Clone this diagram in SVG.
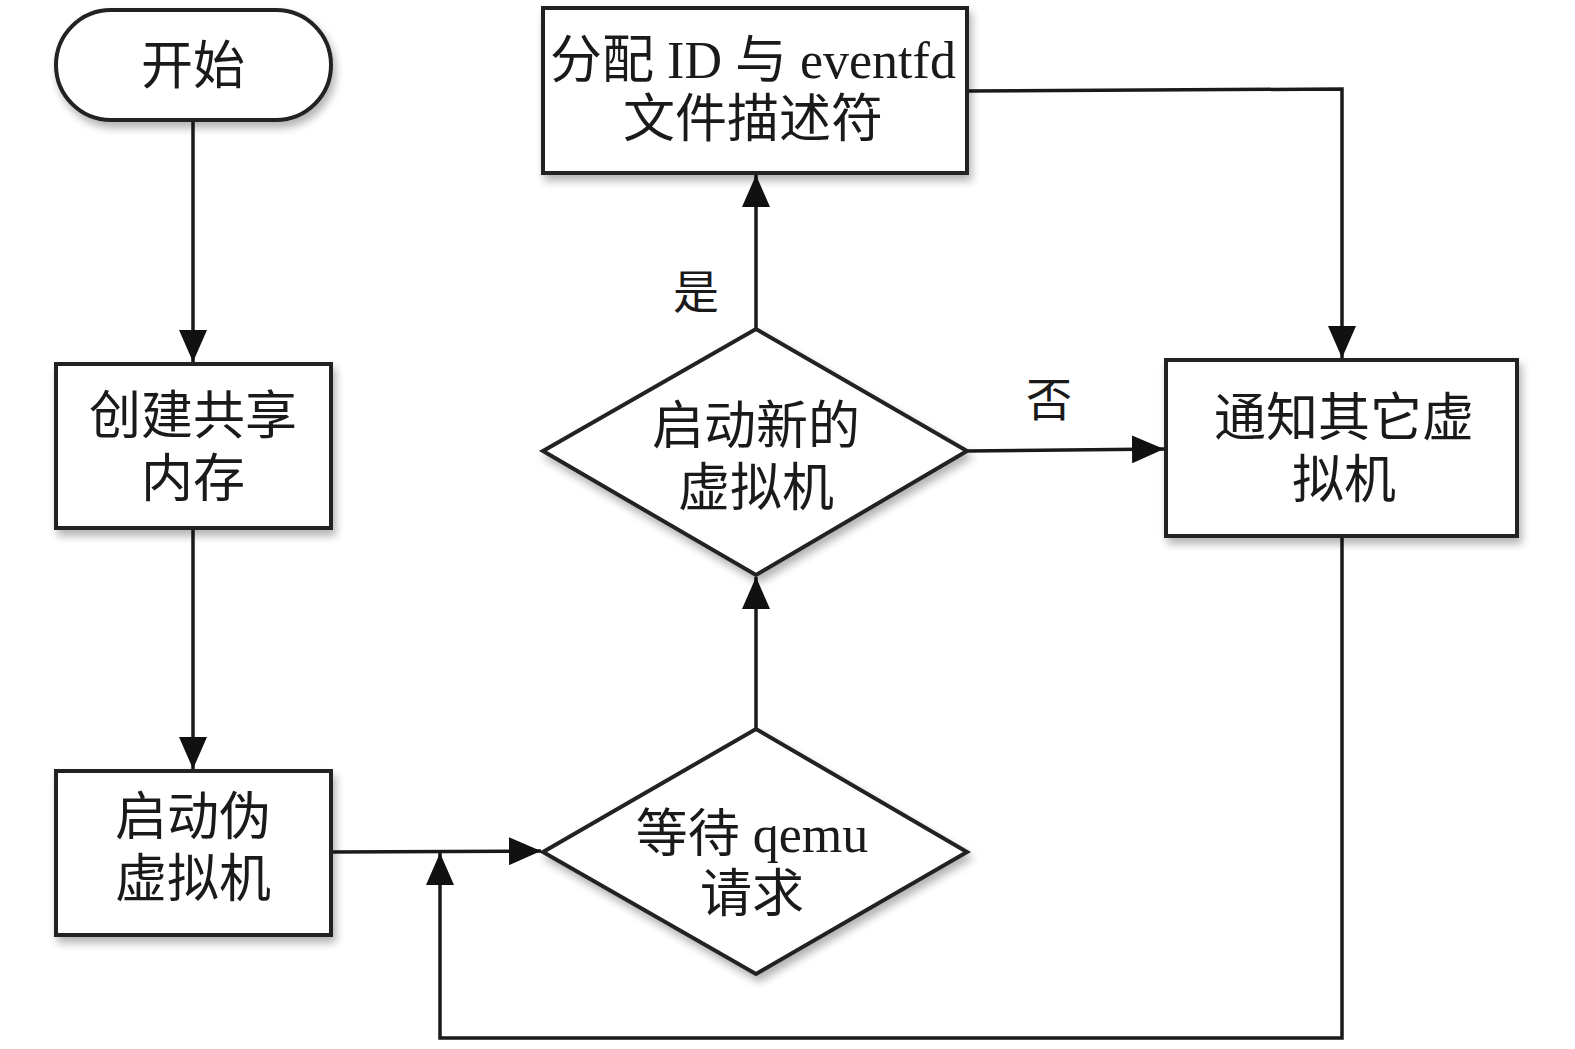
<svg xmlns="http://www.w3.org/2000/svg" width="1575" height="1049" viewBox="0 0 1575 1049">
<style>
.shape{fill:#fff;stroke:#222;stroke-width:4;filter:url(#sh)}
.line{fill:none;stroke:#1a1a1a;stroke-width:3.5}
.t{font-family:"Liberation Serif","Noto Sans CJK SC",serif;font-size:52px;fill:#1a1a1a;text-anchor:middle}
.lbl{font-family:"Liberation Serif","Noto Sans CJK SC",serif;font-size:46px;fill:#1a1a1a;text-anchor:middle}
</style>
<defs>
<filter id="sh" x="-10%" y="-10%" width="130%" height="130%">
<feGaussianBlur in="SourceAlpha" stdDeviation="4"/>
<feOffset dx="3" dy="6" result="b"/>
<feComponentTransfer><feFuncA type="linear" slope="0.3"/></feComponentTransfer>
<feMerge><feMergeNode/><feMergeNode in="SourceGraphic"/></feMerge>
</filter>
<marker id="ar" viewBox="0 0 32 28" refX="32" refY="14" markerWidth="32" markerHeight="28" markerUnits="userSpaceOnUse" orient="auto">
<path d="M0,0 L32,14 L0,28 Z" fill="#111"/>
</marker>
</defs>
<g id="connectors">
<path class="line" d="M193,121 V362" marker-end="url(#ar)"/>
<path class="line" d="M193,528 V769" marker-end="url(#ar)"/>
<path class="line" d="M332,852 L541,851" marker-end="url(#ar)"/>
<path class="line" d="M756,729 V577" marker-end="url(#ar)"/>
<path class="line" d="M756,329 V175" marker-end="url(#ar)"/>
<path class="line" d="M967,451 L1164,449" marker-end="url(#ar)"/>
<path class="line" d="M967,91 L1342,89 V358" marker-end="url(#ar)"/>
<path class="line" d="M1342,536 V1038 H440 V853" marker-end="url(#ar)"/>
</g>
<g id="start">
<rect class="shape" x="56" y="10" width="275" height="110" rx="55" ry="55"/>
<text class="t" x="193" y="84">开始</text>
</g>
<g id="create-shm">
<rect class="shape" x="56" y="364" width="275" height="164"/>
<text class="t" x="193" y="434">创建共享</text>
<text class="t" x="193" y="497">内存</text>
</g>
<g id="start-pseudo-vm">
<rect class="shape" x="56" y="771" width="275" height="164"/>
<text class="t" x="193" y="835">启动伪</text>
<text class="t" x="193" y="897">虚拟机</text>
</g>
<g id="wait-qemu">
<polygon class="shape" points="543,852 756,729 967,852 756,974"/>
<text class="t" x="752" y="852">等待 qemu</text>
<text class="t" x="752" y="912">请求</text>
</g>
<g id="new-vm">
<polygon class="shape" points="543,451 756,329 967,451 756,575"/>
<text class="t" x="756" y="444">启动新的</text>
<text class="t" x="756" y="506">虚拟机</text>
</g>
<g id="alloc">
<rect class="shape" x="543" y="8" width="424" height="165"/>
<text class="t" x="753" y="78">分配 ID 与 eventfd</text>
<text class="t" x="753" y="137">文件描述符</text>
</g>
<g id="notify">
<rect class="shape" x="1166" y="360" width="351" height="176"/>
<text class="t" x="1344" y="436">通知其它虚</text>
<text class="t" x="1344" y="498">拟机</text>
</g>
<g id="labels">
<text class="lbl" x="696" y="308">是</text>
<text class="lbl" x="1049" y="416">否</text>
</g>
</svg>
